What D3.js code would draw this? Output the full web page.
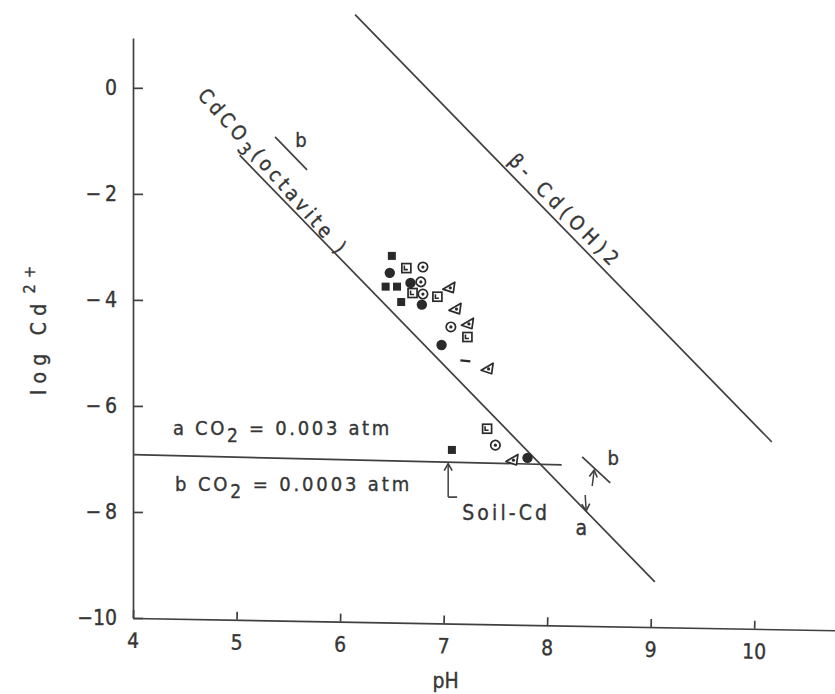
<!DOCTYPE html>
<html><head><meta charset="utf-8">
<script src="https://cdn.jsdelivr.net/npm/d3@7"></script>
<style>
html,body{margin:0;padding:0;background:#fff;}
svg{display:block;background:#fff;}
text{font-family:"DejaVu Sans Condensed","DejaVu Sans","Liberation Sans Narrow",sans-serif;fill:#363636;stroke:#363636;stroke-width:0.35px;}
</style></head><body>
<svg id="chart" width="835" height="694"></svg>
<script>
// ---- data (pH, log Cd2+) ----
const xTicks = [4, 5, 6, 7, 8, 9, 10];
const yTicks = [0, -2, -4, -6, -8, -10];
const filledSquares = [[6.50,-3.17],[6.44,-3.75],[6.55,-3.75],[6.59,-4.04],[7.08,-6.83]];
const filledCircles = [[6.48,-3.49],[6.68,-3.68],[6.79,-4.09],[6.98,-4.85],[7.81,-6.98]];
const boxedSquares  = [[6.64,-3.40],[6.70,-3.87],[6.94,-3.94],[7.23,-4.70],[7.42,-6.43]];
const dottedCircles = [[6.80,-3.38],[6.78,-3.66],[6.80,-3.89],[7.07,-4.51],[7.50,-6.74]];
const triangles     = [[7.05,-3.75],[7.11,-4.15],[7.23,-4.43],[7.42,-5.28],[7.66,-7.00]];
const dashes        = [[7.21,-5.15]];
const cdco3Line  = [[5.03,-1.27],[9.04,-9.32]];
const cdoh2Line  = [[6.145,1.38],[10.17,-6.68]];
const soilLine   = [[4.0,-6.92],[8.14,-7.11]];
const bUpper     = [[5.372,-0.925],[5.681,-1.547]];
const bRight     = [[8.338,-6.96],[8.609,-7.45]];
const soilArrow  = [[7.044,-7.72],[7.044,-7.09]];
const soilHook   = [[7.044,-7.72],[7.13,-7.72]];
const upArrow    = [[8.435,-7.51],[8.454,-7.21]];
const downArrow  = [[8.367,-7.68],[8.377,-7.98]];

// ---- setup ----
const svg = d3.select("#chart");
const ink = "#363636", lineInk = "#404040";
const x = d3.scaleLinear().domain([4, 10.78]).range([133, 835]);
const y = d3.scaleLinear().domain([-10, 0.94]).range([618, 38]);

const defs = svg.append("defs");
defs.append("marker").attr("id","arr").attr("markerUnits","userSpaceOnUse")
  .attr("markerWidth",14).attr("markerHeight",14).attr("refX",0).attr("refY",0)
  .attr("viewBox","-8 -7 10 14").attr("orient","auto")
  .append("path").attr("d","M-7,-4 L0,0 L-7,4").attr("fill","none").attr("stroke",lineInk).attr("stroke-width",1.6);

function fit(sel, target){
  const node = sel.node();
  const nat = node.getComputedTextLength();
  const n = node.textContent.length;
  if (n > 1) sel.attr("letter-spacing", ((target - nat) / (n - 1)).toFixed(2));
}

// ---- axes ----
const yAxis = d3.axisLeft(y).tickValues(yTicks).tickSizeInner(-10).tickSizeOuter(0).tickPadding(16)
  .tickFormat(d => d === 0 ? "0" : "\u2212" + (Math.abs(d) < 10 ? "\u2009" : "") + Math.abs(d));
svg.append("g").attr("transform","translate(133,0)").call(yAxis)
  .attr("font-family", null).attr("font-size", null)
  .call(g => { g.selectAll("path,line").attr("stroke", lineInk).attr("stroke-width", 1.7);
               g.selectAll("text").attr("font-size", 21).attr("fill", ink); });

const xAxis = d3.axisBottom(x).tickValues(xTicks).tickSizeInner(-8).tickSizeOuter(0).tickPadding(15)
  .tickFormat(d3.format("d"));
svg.append("g").attr("transform","translate(0,618) rotate(1.0,133,0)").call(xAxis)
  .attr("font-family", null).attr("font-size", null)
  .call(g => { g.selectAll("path,line").attr("stroke", lineInk).attr("stroke-width", 1.7);
               g.selectAll("text").attr("font-size", 21).attr("fill", ink); });

svg.append("text").attr("x", x(7.02)).attr("y", 688).attr("text-anchor","middle")
  .attr("font-size", 21).text("pH");

const yt = svg.append("text").attr("transform", `translate(46,395) rotate(-90)`).attr("font-size", 21);
yt.append("tspan").text("log Cd");
yt.append("tspan").attr("font-size", 16).attr("dy", -11).attr("dx", 4).text("2+");
fit(yt, 125);

// ---- lines ----
const line = d3.line().x(d => x(d[0])).y(d => y(d[1]));
const lg = svg.append("g").attr("fill","none").attr("stroke", lineInk).attr("stroke-width", 1.7);
[cdco3Line, cdoh2Line, soilLine, bUpper, bRight, soilHook].forEach(l => lg.append("path").attr("d", line(l)));
[soilArrow, upArrow, downArrow].forEach(l => lg.append("path").attr("d", line(l)).attr("marker-end","url(#arr)").attr("stroke-width",1.5));

// ---- markers ----
const mk = "#2a2a2a";
const mg = svg.append("g");
mg.selectAll(".fs").data(filledSquares).join("rect")
  .attr("x", d => x(d[0]) - 4).attr("y", d => y(d[1]) - 4).attr("width", 8).attr("height", 8).attr("fill", mk);
mg.selectAll(".fc").data(filledCircles).join("circle")
  .attr("cx", d => x(d[0])).attr("cy", d => y(d[1])).attr("r", 5.2).attr("fill", mk);
const bs = mg.selectAll(".bs").data(boxedSquares).join("g").attr("transform", d => `translate(${x(d[0])},${y(d[1])})`);
bs.append("rect").attr("x",-4.5).attr("y",-4.5).attr("width",9).attr("height",9).attr("fill","#fff").attr("stroke",mk).attr("stroke-width",1.7);
bs.append("path").attr("d","M-2,-2.5 L-2,1.5 L1.5,1.5").attr("fill","none").attr("stroke",mk).attr("stroke-width",1.6);
const dc = mg.selectAll(".dc").data(dottedCircles).join("g").attr("transform", d => `translate(${x(d[0])},${y(d[1])})`);
dc.append("circle").attr("r",4.7).attr("fill","#fff").attr("stroke",mk).attr("stroke-width",1.7);
dc.append("circle").attr("r",1.6).attr("fill",mk);
const tr = mg.selectAll(".tr").data(triangles).join("g").attr("transform", d => `translate(${x(d[0])},${y(d[1])})`);
tr.append("path").attr("d","M-6,2.5 L6,-4.5 L4.5,6 Z").attr("fill","#fff").attr("stroke",mk).attr("stroke-width",1.7).attr("stroke-linejoin","round");
tr.append("circle").attr("cx",1.5).attr("cy",1.2).attr("r",1.6).attr("fill",mk);
mg.selectAll(".ds").data(dashes).join("line")
  .attr("x1", d => x(d[0]) - 5).attr("x2", d => x(d[0]) + 5).attr("y1", d => y(d[1]) - 0.5).attr("y2", d => y(d[1]) + 0.5)
  .attr("stroke",mk).attr("stroke-width",2.2);

// ---- annotations ----
function rotLabel(px, ly, ang, parts, len){
  const t = svg.append("text").attr("transform", `translate(${x(px)},${y(ly)}) rotate(${ang})`).attr("font-size", 20);
  parts.forEach(p => {
    const s = t.append("tspan").text(p.t);
    if (p.sub) s.attr("font-size", 18).attr("dy", 6);
    if (p.after) s.attr("dy", -6);
  });
  fit(t, len);
  return t;
}
rotLabel(4.616, -0.153, 48.5, [{t:"CdCO"},{t:"3",sub:true},{t:"(octavite )",after:true}], 212);
rotLabel(7.614, -1.396, 45.5, [{t:"\u03B2- Cd(OH)2"}], 147);

svg.append("text").attr("x", x(5.623)).attr("y", y(-1.113)).attr("text-anchor","middle").attr("font-size",20).text("b");
svg.append("text").attr("x", x(8.638)).attr("y", y(-7.113)).attr("text-anchor","middle").attr("font-size",20).text("b");
svg.append("text").attr("x", x(8.329)).attr("y", y(-8.434)).attr("text-anchor","middle").attr("font-size",21).text("a");
fit(svg.append("text").attr("x", x(7.179)).attr("y", y(-8.151)).attr("font-size",21).text("Soil-Cd"), 85);

function co2(px, ly, pre, val, len){
  const t = svg.append("text").attr("x", x(px)).attr("y", y(ly)).attr("font-size", 20);
  t.append("tspan").text(pre + "  CO");
  t.append("tspan").attr("font-size", 19).attr("dy", 7).text("2");
  t.append("tspan").attr("dy", -7).text(" = " + val + " atm");
  fit(t, len);
}
co2(4.386, -6.547, "a", "0.003", 219);
co2(4.406, -7.604, "b", "0.0003", 237);
</script>
</body></html>
